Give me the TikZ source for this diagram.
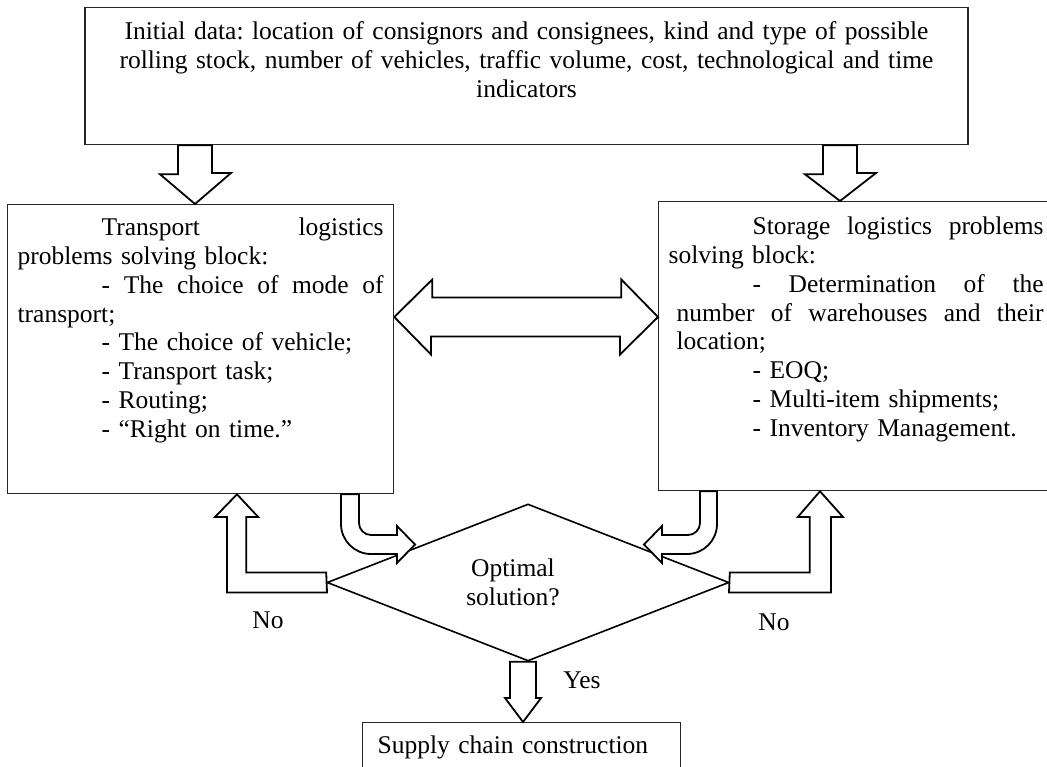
\documentclass[tikz,border=0pt]{standalone}
\usepackage{fontspec}
\setmainfont{Liberation Serif}
\frenchspacing
\usetikzlibrary{shapes.geometric, positioning}

\tikzset{
  every node/.style={font=\fontsize{25.5}{28.8}\selectfont},
  textbox/.style={draw=black!85, line width=1.3pt, inner xsep=10pt, inner ysep=0pt, align=left},
  fatarrow/.style={draw, line width=1.8pt, fill=white, line join=miter},
}

\begin{document}
\begin{tikzpicture}[x=1pt, y=-1pt]
	\useasboundingbox (0,0) rectangle (1047,767);

	% Nodes
	\node[textbox, align=center, anchor=north, text width=863pt, text height=32pt, text depth=105pt] (init) at (526.5,7)
		{Initial data: location of consignors and consignees, kind and type of possible\\
		 rolling stock, number of vehicles, traffic volume, cost, technological and time\\
		 indicators};
	\node[textbox, anchor=north west, text width=366pt, text height=31pt, text depth=258pt] (trans) at (7,204)
		{\hspace*{84pt}Transport\hfill logistics\\
		 problems solving block:\\
		 \hspace*{84pt}-\hfill The\hfill choice\hfill of\hfill mode\hfill of\\
		 transport;\\
		 \hspace*{84pt}- The choice of vehicle;\\
		 \hspace*{84pt}- Transport task;\\
		 \hspace*{84pt}- Routing;\\
		 \hspace*{84pt}- “Right on time.”};
	\node[textbox, anchor=north west, text width=375pt, text height=33pt, text depth=256pt] (stor) at (658,201)
		{\hspace*{84pt}Storage\hfill logistics\hfill problems\\
		 solving block:\\
		 \hspace*{84pt}-\hfill Determination\hfill of\hfill the\\
		 \hspace*{8pt}number\hfill of\hfill warehouses\hfill and\hfill their\\
		 \hspace*{8pt}location;\\
		 \hspace*{84pt}- EOQ;\\
		 \hspace*{84pt}- Multi-item shipments;\\
		 \hspace*{84pt}- Inventory Management.};
	\node[draw, diamond, shape aspect=2.56, line width=1.6pt, minimum width=402pt, minimum height=157pt, inner sep=0pt, align=center] (opt) at (528,582.5)
		{Optimal\hspace*{30pt}\\solution?\hspace*{30pt}};
	\node[textbox, anchor=north west, inner xsep=15pt, text width=288pt, text height=31pt, text depth=17pt] (supply) at (362,722)
		{Supply chain construction};
	\node (noleft) at (268,620) {No};
	\node (noright) at (774,622) {No};
	\node (yes) at (582,680) {Yes};

	% Arrows
	\draw[fatarrow] (178,0 |- init.south) -- ++(0,29) -- ++(-18,0) -- (195,0 |- trans.north) -- ++(36,-31) -- ++(-19,0) -- (212,0 |- init.south) -- cycle;
	\draw[fatarrow] (823,0 |- init.south) -- ++(0,29) -- ++(-18,0) -- (840,0 |- stor.north) -- ++(36,-28) -- ++(-19,0) -- (857,0 |- init.south) -- cycle;
	\draw[fatarrow] (trans.east |- 0,317) -- ++(38,-37.5) -- ++(0,18) -- ++(189,0) -- ++(0,-18) -- (stor.west |- 0,317) -- ++(-38,37.5) -- ++(0,-18) -- ++(-189,0) -- ++(0,18) -- cycle;
	\draw[fatarrow] (341,0 |- trans.south) -- (341,524) arc[start angle=180, end angle=90, radius=30] -- (397,554) -- (397,563) -- (415,544.5) -- (397,526) -- (397,535) -- (371,535) arc[start angle=90, end angle=180, radius=12] -- (359,0 |- trans.south) -- cycle;
	\draw[fatarrow] (717,0 |- stor.south) -- (717,524) arc[start angle=0, end angle=90, radius=30] -- (662,554) -- (662,563) -- (644,544.5) -- (662,526) -- (662,535) -- (688,535) arc[start angle=90, end angle=0, radius=12] -- (700,0 |- stor.south) -- cycle;
	\draw[fatarrow] (opt.west) ++(0,-10) -- ++(-80,0) -- ++(0,-55.5) -- ++(12,0) -- (237,0 |- trans.south) -- (215,517) -- ++(12,0) -- ++(0,75.5) -- ++(100,0) -- cycle;
	\draw[fatarrow] (opt.east) ++(0,-10) -- ++(80,0) -- ++(0,-55.5) -- ++(-12,0) -- (820,0 |- stor.south) -- (843,517) -- ++(-12,0) -- ++(0,75.5) -- ++(-102,0) -- cycle;
	\draw[fatarrow] (510,0 |- opt.south) -- (510,698) -- (505,698) -- (523,0 |- supply.north) -- (541,698) -- (536,698) -- (536,0 |- opt.south) -- cycle;
\end{tikzpicture}
\end{document}
